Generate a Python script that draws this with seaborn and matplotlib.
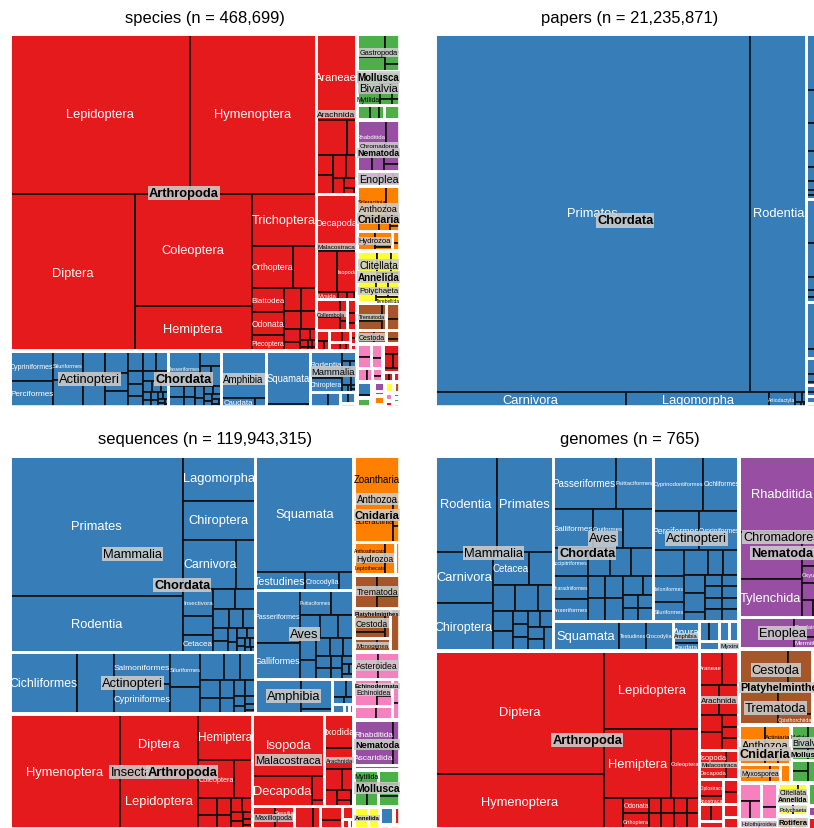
import matplotlib
matplotlib.use("Agg")
import matplotlib.pyplot as plt
import seaborn as sns
import pandas as pd
from matplotlib.patches import Rectangle
from matplotlib.font_manager import FontProperties

sns.set_theme(style="white")
plt.rcParams["font.family"] = ["Liberation Sans", "DejaVu Sans"]

# ---------------------------------------------------------------- data
# phylum order used to hand out the Set1 colours (recycled after eight)
PHYLUM_RANK = ["Arthropoda", "Chordata", "Mollusca", "Nematoda", "Cnidaria",
               "Annelida", "Platyhelminthes", "Echinodermata", "Porifera",
               "Bryozoa", "Tardigrada", "Nemertea", "Rotifera", "Brachiopoda",
               "Chaetognatha", "Onychophora", "Gastrotricha", "Kinorhyncha",
               "Priapulida", "Ctenophora"]

N_SPECIES = 468699
N_PAPERS = 21235871
N_SEQUENCES = 119943315
N_GENOMES = 765

# taxa are "phylum/class/order"; an empty class means no class rank
SPECIES_TAXA = [
    "Arthropoda/Insecta/Lepidoptera", "Arthropoda/Insecta/Hymenoptera", "Arthropoda/Insecta/Diptera",
    "Arthropoda/Insecta/Coleoptera", "Arthropoda/Insecta/Hemiptera", "Arthropoda/Insecta/Trichoptera",
    "Arthropoda/Insecta/Orthoptera", "Arthropoda/Insecta/Ephemeroptera", "Arthropoda/Insecta/Blattodea",
    "Arthropoda/Insecta/Odonata", "Arthropoda/Insecta/Plecoptera", "Arthropoda/Insecta/Psocodea",
    "Arthropoda/Insecta/Thysanoptera", "Arthropoda/Insecta/Neuroptera", "Arthropoda/Insecta/Phasmida",
    "Arthropoda/Insecta/Mantodea", "Arthropoda/Insecta/Siphonaptera", "Arthropoda/Insecta/Dermaptera",
    "Arthropoda/Insecta/Mecoptera", "Arthropoda/Insecta/Megaloptera", "Arthropoda/Insecta/Strepsiptera",
    "Arthropoda/Insecta/Zygentoma", "Arthropoda/Insecta/Archaeognatha", "Arthropoda/Insecta/Embioptera",
    "Arthropoda/Insecta/Raphidioptera",
    "Arthropoda/Arachnida/Araneae", "Arthropoda/Arachnida/Sarcoptiformes", "Arthropoda/Arachnida/Trombidiformes",
    "Arthropoda/Arachnida/Mesostigmata", "Arthropoda/Arachnida/Opiliones", "Arthropoda/Arachnida/Pseudoscorpiones",
    "Arthropoda/Arachnida/Scorpiones", "Arthropoda/Arachnida/Ixodida", "Arthropoda/Arachnida/Solifugae",
    "Arthropoda/Arachnida/Amblypygi", "Arthropoda/Arachnida/Palpigradi",
    "Arthropoda/Malacostraca/Decapoda", "Arthropoda/Malacostraca/Amphipoda", "Arthropoda/Malacostraca/Isopoda",
    "Arthropoda/Malacostraca/Mysida", "Arthropoda/Malacostraca/Cumacea", "Arthropoda/Malacostraca/Tanaidacea",
    "Arthropoda/Malacostraca/Euphausiacea",
    "Arthropoda/Collembola/Entomobryomorpha", "Arthropoda/Collembola/Poduromorpha",
    "Arthropoda/Collembola/Symphypleona", "Arthropoda/Collembola/Neelipleona",
    "Arthropoda/Hexanauplia/Calanoida", "Arthropoda/Hexanauplia/Harpacticoida", "Arthropoda/Hexanauplia/Cyclopoida",
    "Arthropoda/Diplopoda/Polydesmida", "Arthropoda/Diplopoda/Julida", "Arthropoda/Diplopoda/Spirostreptida",
    "Arthropoda/Ostracoda/Podocopida", "Arthropoda/Ostracoda/Myodocopida",
    "Arthropoda/Chilopoda/Geophilomorpha", "Arthropoda/Chilopoda/Lithobiomorpha",
    "Arthropoda/Chilopoda/Scolopendromorpha",
    "Arthropoda/Branchiopoda/Diplostraca", "Arthropoda/Branchiopoda/Anostraca",
    "Arthropoda/Pycnogonida/Pantopoda",
    "Chordata/Actinopteri/Cypriniformes", "Chordata/Actinopteri/Perciformes", "Chordata/Actinopteri/Siluriformes",
    "Chordata/Actinopteri/Cyprinodontiformes", "Chordata/Actinopteri/Gobiiformes", "Chordata/Actinopteri/Characiformes",
    "Chordata/Actinopteri/Cichliformes", "Chordata/Actinopteri/Scorpaeniformes", "Chordata/Actinopteri/Salmoniformes",
    "Chordata/Actinopteri/Anabantiformes", "Chordata/Actinopteri/Gadiformes", "Chordata/Actinopteri/Pleuronectiformes",
    "Chordata/Actinopteri/Clupeiformes", "Chordata/Actinopteri/Tetraodontiformes", "Chordata/Actinopteri/Labriformes",
    "Chordata/Actinopteri/Beloniformes", "Chordata/Actinopteri/Stomiiformes", "Chordata/Actinopteri/Myctophiformes",
    "Chordata/Actinopteri/Ophidiiformes", "Chordata/Actinopteri/Aulopiformes", "Chordata/Actinopteri/Lophiiformes",
    "Chordata/Actinopteri/Osmeriformes", "Chordata/Actinopteri/Blenniiformes", "Chordata/Actinopteri/Atheriniformes",
    "Chordata/Actinopteri/Gymnotiformes", "Chordata/Actinopteri/Syngnathiformes", "Chordata/Actinopteri/Anguilliformes",
    "Chordata/Actinopteri/Osteoglossiformes", "Chordata/Actinopteri/Acipenseriformes", "Chordata/Actinopteri/Zeiformes",
    "Chordata/Aves/Passeriformes", "Chordata/Aves/Apodiformes", "Chordata/Aves/Piciformes",
    "Chordata/Aves/Charadriiformes", "Chordata/Aves/Psittaciformes", "Chordata/Aves/Columbiformes",
    "Chordata/Aves/Galliformes", "Chordata/Aves/Accipitriformes", "Chordata/Aves/Coraciiformes",
    "Chordata/Aves/Strigiformes", "Chordata/Aves/Cuculiformes", "Chordata/Aves/Gruiformes",
    "Chordata/Aves/Anseriformes", "Chordata/Aves/Pelecaniformes", "Chordata/Aves/Procellariiformes",
    "Chordata/Aves/Caprimulgiformes", "Chordata/Aves/Trogoniformes", "Chordata/Aves/Bucerotiformes",
    "Chordata/Amphibia/Anura", "Chordata/Amphibia/Caudata", "Chordata/Amphibia/Gymnophiona",
    "Chordata//Squamata", "Chordata//Testudines", "Chordata//Crocodylia",
    "Chordata/Mammalia/Rodentia", "Chordata/Mammalia/Chiroptera", "Chordata/Mammalia/Eulipotyphla",
    "Chordata/Mammalia/Primates", "Chordata/Mammalia/Carnivora", "Chordata/Mammalia/Artiodactyla",
    "Chordata/Mammalia/Didelphimorphia", "Chordata/Mammalia/Diprotodontia", "Chordata/Mammalia/Cetacea",
    "Chordata/Mammalia/Lagomorpha", "Chordata/Mammalia/Afrosoricida",
    "Chordata/Chondrichthyes/Carcharhiniformes", "Chordata/Chondrichthyes/Rajiformes",
    "Chordata/Ascidiacea/Stolidobranchia", "Chordata/Ascidiacea/Phlebobranchia",
    "Chordata/Myxini/Myxiniformes", "Chordata/Leptocardii/Amphioxiformes",
    "Mollusca/Gastropoda/Stylommatophora", "Mollusca/Gastropoda/Neogastropoda",
    "Mollusca/Gastropoda/Littorinimorpha", "Mollusca/Gastropoda/Nudibranchia", "Mollusca/Gastropoda/Trochida",
    "Mollusca/Bivalvia/Venerida", "Mollusca/Bivalvia/Mytilida", "Mollusca/Bivalvia/Ostreida",
    "Mollusca/Bivalvia/Unionida", "Mollusca/Bivalvia/Cardiida", "Mollusca/Bivalvia/Pectinida",
    "Mollusca/Bivalvia/Arcida",
    "Mollusca/Cephalopoda/Octopoda", "Mollusca/Cephalopoda/Oegopsida", "Mollusca/Cephalopoda/Sepiida",
    "Mollusca/Polyplacophora/Chitonida",
    "Nematoda/Chromadorea/Rhabditida", "Nematoda/Chromadorea/Tylenchida", "Nematoda/Chromadorea/Araeolaimida",
    "Nematoda/Chromadorea/Desmodorida", "Nematoda/Chromadorea/Monhysterida", "Nematoda/Chromadorea/Plectida",
    "Nematoda/Enoplea/Enoplida", "Nematoda/Enoplea/Dorylaimida", "Nematoda/Enoplea/Mononchida",
    "Cnidaria/Anthozoa/Scleractinia", "Cnidaria/Anthozoa/Alcyonacea", "Cnidaria/Anthozoa/Actiniaria",
    "Cnidaria/Anthozoa/Zoantharia", "Cnidaria/Anthozoa/Antipatharia", "Cnidaria/Anthozoa/Pennatulacea",
    "Cnidaria/Hydrozoa/Leptothecata", "Cnidaria/Hydrozoa/Anthoathecata", "Cnidaria/Hydrozoa/Siphonophorae",
    "Cnidaria/Scyphozoa/Semaeostomeae", "Cnidaria/Scyphozoa/Rhizostomeae",
    "Annelida/Clitellata/Haplotaxida", "Annelida/Clitellata/Crassiclitellata",
    "Annelida/Clitellata/Arhynchobdellida", "Annelida/Clitellata/Rhynchobdellida",
    "Annelida/Polychaeta/Phyllodocida", "Annelida/Polychaeta/Eunicida", "Annelida/Polychaeta/Sabellida",
    "Annelida/Polychaeta/Terebellida",
    "Platyhelminthes/Trematoda/Plagiorchiida", "Platyhelminthes/Trematoda/Diplostomida",
    "Platyhelminthes/Trematoda/Opisthorchiida",
    "Platyhelminthes/Cestoda/Cyclophyllidea", "Platyhelminthes/Cestoda/Proteocephalidea",
    "Platyhelminthes/Monogenea/Dactylogyridea", "Platyhelminthes/Monogenea/Gyrodactylidea",
    "Platyhelminthes/Rhabditophora/Tricladida", "Platyhelminthes/Rhabditophora/Polycladida",
    "Echinodermata/Asteroidea/Valvatida", "Echinodermata/Asteroidea/Forcipulatida",
    "Echinodermata/Ophiuroidea/Ophiurida", "Echinodermata/Ophiuroidea/Amphilepidida",
    "Echinodermata/Echinoidea/Camarodonta", "Echinodermata/Echinoidea/Spatangoida",
    "Echinodermata/Holothuroidea/Holothuriida", "Echinodermata/Holothuroidea/Dendrochirotida",
    "Porifera/Demospongiae/Haplosclerida", "Porifera/Demospongiae/Poecilosclerida",
    "Porifera/Demospongiae/Tetractinellida", "Porifera/Demospongiae/Dictyoceratida",
    "Porifera/Calcarea/Clathrinida", "Porifera/Calcarea/Leucosolenida", "Porifera/Hexactinellida/Lyssacinosida",
    "Bryozoa/Gymnolaemata/Cheilostomatida", "Bryozoa/Gymnolaemata/Ctenostomatida",
    "Bryozoa/Phylactolaemata/Plumatellida",
    "Tardigrada/Eutardigrada/Parachela", "Tardigrada/Heterotardigrada/Echiniscoidea",
    "Nemertea/Pilidiophora/Heteronemertea", "Nemertea/Hoplonemertea/Monostilifera",
    "Rotifera/Monogononta/Ploima", "Rotifera/Bdelloidea/Philodinida",
    "Brachiopoda/Rhynchonellata/Terebratulida", "Chaetognatha/Sagittoidea/Aphragmophora",
    "Onychophora/Udeonychophora/Euonychophora", "Gastrotricha/Chaetonotida/Paucitubulatina",
    "Kinorhyncha/Cyclorhagida/Echinorhagata", "Priapulida/Priapulimorpha/Priapulimorphida",
    "Ctenophora/Tentaculata/Lobata",
]
SPECIES_SIZE = [
    28800, 20000, 19500, 13000, 5300, 3300, 1700, 950, 800, 750, 520, 400, 340, 300, 250,
    200, 150, 120, 60, 50, 40, 30, 20, 20, 15,
    3570, 1120, 350, 340, 330, 300, 250, 180, 120, 60, 20,
    2350, 900, 820, 150, 60, 50, 20,
    450, 300, 150, 60,
    150, 100, 70,
    150, 90, 60,
    150, 100,
    100, 60, 40,
    60, 40,
    50,
    1260, 1125, 840, 810, 650, 560, 480, 420, 360, 300, 260, 230, 200, 180, 160,
    140, 120, 100, 90, 80, 70, 60, 50, 45, 40, 35, 30, 25, 15, 10,
    1100, 300, 220, 200, 180, 150, 130, 110, 100, 80, 70, 60, 55, 50, 45, 40, 20, 15,
    2100, 300, 100,
    2250, 140, 10,
    850, 440, 150, 120, 100, 80, 50, 40, 25, 25, 15,
    280, 180,
    100, 70,
    60, 40,
    650, 380, 270, 170, 110,
    490, 290, 240, 200, 130, 75, 45,
    180, 120, 80,
    220,
    950, 480, 270, 220, 170, 110,
    330, 210, 110,
    850, 420, 320, 160, 100, 50,
    350, 290, 60,
    90, 60,
    540, 320, 190, 130,
    480, 220, 210, 160,
    430, 220, 110,
    250, 170,
    220, 150,
    120, 80,
    170, 160,
    150, 120,
    130, 80,
    80, 60,
    170, 140, 100, 70,
    60, 40, 70,
    180, 50,
    50,
    110, 40,
    100, 50,
    90, 30,
    90, 70,
    60, 50,
    40, 30,
    30,
]

PAPERS_TAXA = [
    "Chordata/Mammalia/Primates", "Chordata/Mammalia/Rodentia", "Chordata/Mammalia/Carnivora",
    "Chordata/Mammalia/Lagomorpha", "Chordata/Mammalia/Artiodactyla", "Chordata/Mammalia/Chiroptera",
    "Chordata/Mammalia/Perissodactyla", "Chordata/Mammalia/Didelphimorphia", "Chordata/Mammalia/Cetacea",
    "Chordata/Mammalia/Diprotodontia",
    "Chordata/Actinopteri/Cypriniformes", "Chordata/Actinopteri/Salmoniformes", "Chordata/Actinopteri/Perciformes",
    "Chordata/Actinopteri/Cyprinodontiformes", "Chordata/Actinopteri/Siluriformes",
    "Chordata/Actinopteri/Cichliformes", "Chordata/Actinopteri/Gadiformes", "Chordata/Actinopteri/Pleuronectiformes",
    "Chordata/Aves/Galliformes", "Chordata/Aves/Passeriformes", "Chordata/Aves/Anseriformes",
    "Chordata/Aves/Columbiformes", "Chordata/Aves/Psittaciformes",
    "Chordata/Amphibia/Anura", "Chordata/Amphibia/Caudata",
    "Chordata//Squamata", "Chordata//Testudines", "Chordata//Crocodylia",
    "Chordata/Chondrichthyes/Carcharhiniformes", "Chordata/Chondrichthyes/Rajiformes",
    "Chordata/Ascidiacea/Stolidobranchia", "Chordata/Myxini/Myxiniformes",
    "Arthropoda/Insecta/Diptera", "Arthropoda/Insecta/Lepidoptera", "Arthropoda/Insecta/Hymenoptera",
    "Arthropoda/Insecta/Coleoptera", "Arthropoda/Insecta/Hemiptera",
    "Arthropoda/Arachnida/Ixodida", "Arthropoda/Arachnida/Araneae", "Arthropoda/Malacostraca/Decapoda",
    "Nematoda/Chromadorea/Rhabditida",
    "Platyhelminthes/Trematoda/Plagiorchiida", "Platyhelminthes/Trematoda/Diplostomida",
    "Platyhelminthes/Cestoda/Cyclophyllidea",
    "Cnidaria/Hydrozoa/Anthoathecata", "Cnidaria/Anthozoa/Actiniaria",
    "Mollusca/Gastropoda/Stylommatophora", "Mollusca/Bivalvia/Mytilida",
    "Annelida/Clitellata/Haplotaxida", "Echinodermata/Echinoidea/Camarodonta",
]
PAPERS_SIZE = [
    113500, 20160, 2880, 2145, 400, 70, 45, 25, 15, 10,
    500, 300, 250, 150, 120, 80, 50, 35,
    400, 300, 120, 60, 47,
    420, 80,
    150, 70, 30,
    60, 40,
    60, 35,
    1200, 250, 180, 100, 90,
    100, 50, 100,
    550,
    150, 100,
    120,
    140, 100,
    120, 100,
    110, 80,
]

SEQUENCES_TAXA = [
    "Chordata/Mammalia/Primates", "Chordata/Mammalia/Rodentia", "Chordata/Mammalia/Lagomorpha",
    "Chordata/Mammalia/Chiroptera", "Chordata/Mammalia/Carnivora", "Chordata/Mammalia/Artiodactyla",
    "Chordata/Mammalia/Insectivora", "Chordata/Mammalia/Perissodactyla", "Chordata/Mammalia/Cetacea",
    "Chordata/Mammalia/Didelphimorphia", "Chordata/Mammalia/Diprotodontia", "Chordata/Mammalia/Dasyuromorphia",
    "Chordata/Mammalia/Scandentia", "Chordata/Mammalia/Afrosoricida", "Chordata/Mammalia/Proboscidea",
    "Chordata/Mammalia/Sirenia", "Chordata/Mammalia/Pilosa", "Chordata/Mammalia/Cingulata",
    "Chordata/Mammalia/Macroscelidea", "Chordata/Mammalia/Hyracoidea", "Chordata/Mammalia/Pholidota",
    "Chordata/Mammalia/Monotremata", "Chordata/Mammalia/Dermoptera", "Chordata/Mammalia/Peramelemorphia",
    "Chordata/Mammalia/Tubulidentata", "Chordata/Mammalia/Microbiotheria",
    "Chordata//Squamata", "Chordata//Testudines", "Chordata//Crocodylia", "Chordata//Rhynchocephalia",
    "Chordata/Aves/Passeriformes", "Chordata/Aves/Galliformes", "Chordata/Aves/Psittaciformes",
    "Chordata/Aves/Anseriformes", "Chordata/Aves/Accipitriformes", "Chordata/Aves/Charadriiformes",
    "Chordata/Aves/Piciformes", "Chordata/Aves/Columbiformes", "Chordata/Aves/Strigiformes",
    "Chordata/Aves/Sphenisciformes", "Chordata/Aves/Pelecaniformes", "Chordata/Aves/Gruiformes",
    "Chordata/Aves/Cuculiformes", "Chordata/Aves/Coraciiformes", "Chordata/Aves/Procellariiformes",
    "Chordata/Aves/Apodiformes", "Chordata/Aves/Struthioniformes", "Chordata/Aves/Tinamiformes",
    "Chordata/Aves/Bucerotiformes", "Chordata/Aves/Caprimulgiformes",
    "Chordata/Actinopteri/Cichliformes", "Chordata/Actinopteri/Cyprinodontiformes",
    "Chordata/Actinopteri/Salmoniformes", "Chordata/Actinopteri/Cypriniformes",
    "Chordata/Actinopteri/Siluriformes", "Chordata/Actinopteri/Characiformes", "Chordata/Actinopteri/Perciformes",
    "Chordata/Actinopteri/Beloniformes", "Chordata/Actinopteri/Pleuronectiformes",
    "Chordata/Actinopteri/Gadiformes", "Chordata/Actinopteri/Tetraodontiformes",
    "Chordata/Actinopteri/Anabantiformes", "Chordata/Actinopteri/Gobiiformes",
    "Chordata/Actinopteri/Scorpaeniformes", "Chordata/Actinopteri/Clupeiformes",
    "Chordata/Actinopteri/Osmeriformes", "Chordata/Actinopteri/Acipenseriformes",
    "Chordata/Actinopteri/Esociformes", "Chordata/Actinopteri/Anguilliformes",
    "Chordata/Actinopteri/Gasterosteiformes",
    "Chordata/Amphibia/Anura", "Chordata/Amphibia/Caudata", "Chordata/Amphibia/Gymnophiona",
    "Chordata/Chondrichthyes/Carcharhiniformes", "Chordata/Chondrichthyes/Rajiformes",
    "Chordata/Chondrichthyes/Lamniformes", "Chordata/Chondrichthyes/Squaliformes",
    "Chordata/Coelacanthi/Coelacanthiformes", "Chordata/Ascidiacea/Stolidobranchia",
    "Chordata/Myxini/Myxiniformes",
    "Arthropoda/Insecta/Hymenoptera", "Arthropoda/Insecta/Diptera", "Arthropoda/Insecta/Lepidoptera",
    "Arthropoda/Insecta/Hemiptera", "Arthropoda/Insecta/Coleoptera", "Arthropoda/Insecta/Orthoptera",
    "Arthropoda/Insecta/Trichoptera", "Arthropoda/Insecta/Blattodea", "Arthropoda/Insecta/Odonata",
    "Arthropoda/Insecta/Phasmida", "Arthropoda/Insecta/Psocodea", "Arthropoda/Insecta/Thysanoptera",
    "Arthropoda/Insecta/Ephemeroptera", "Arthropoda/Insecta/Plecoptera", "Arthropoda/Insecta/Neuroptera",
    "Arthropoda/Insecta/Siphonaptera", "Arthropoda/Insecta/Mantodea",
    "Arthropoda/Malacostraca/Isopoda", "Arthropoda/Malacostraca/Decapoda", "Arthropoda/Malacostraca/Amphipoda",
    "Arthropoda/Malacostraca/Mysida",
    "Arthropoda/Arachnida/Ixodida", "Arthropoda/Arachnida/Araneae", "Arthropoda/Arachnida/Trombidiformes",
    "Arthropoda/Arachnida/Sarcoptiformes", "Arthropoda/Arachnida/Mesostigmata", "Arthropoda/Arachnida/Scorpiones",
    "Arthropoda/Arachnida/Opiliones", "Arthropoda/Arachnida/Pseudoscorpiones",
    "Arthropoda/Maxillopoda/Calanoida", "Arthropoda/Maxillopoda/Sessilia", "Arthropoda/Maxillopoda/Harpacticoida",
    "Arthropoda/Branchiopoda/Diplostraca", "Arthropoda/Branchiopoda/Anostraca",
    "Arthropoda/Collembola/Entomobryomorpha", "Arthropoda/Collembola/Poduromorpha",
    "Arthropoda/Ostracoda/Podocopida", "Arthropoda/Chilopoda/Scolopendromorpha",
    "Arthropoda/Diplopoda/Polydesmida",
    "Cnidaria/Anthozoa/Zoantharia", "Cnidaria/Anthozoa/Scleractinia", "Cnidaria/Anthozoa/Actiniaria",
    "Cnidaria/Anthozoa/Alcyonacea",
    "Cnidaria/Hydrozoa/Anthoathecata", "Cnidaria/Hydrozoa/Leptothecata", "Cnidaria/Hydrozoa/Siphonophorae",
    "Cnidaria/Scyphozoa/Semaeostomeae",
    "Platyhelminthes/Trematoda/Plagiorchiida", "Platyhelminthes/Trematoda/Diplostomida",
    "Platyhelminthes/Trematoda/Opisthorchiida",
    "Platyhelminthes/Cestoda/Cyclophyllidea", "Platyhelminthes/Cestoda/Diphyllobothriidea",
    "Platyhelminthes/Cestoda/Proteocephalidea",
    "Platyhelminthes/Monogenea/Dactylogyridea", "Platyhelminthes/Monogenea/Gyrodactylidea",
    "Platyhelminthes/Rhabditophora/Tricladida",
    "Echinodermata/Asteroidea/Valvatida", "Echinodermata/Asteroidea/Forcipulatida",
    "Echinodermata/Echinoidea/Camarodonta", "Echinodermata/Echinoidea/Spatangoida",
    "Echinodermata/Echinoidea/Cidaroida",
    "Echinodermata/Holothuroidea/Holothuriida", "Echinodermata/Holothuroidea/Dendrochirotida",
    "Echinodermata/Ophiuroidea/Ophiurida", "Echinodermata/Ophiuroidea/Amphilepidida",
    "Nematoda/Chromadorea/Rhabditida", "Nematoda/Chromadorea/Ascaridida", "Nematoda/Chromadorea/Spirurida",
    "Nematoda/Chromadorea/Strongylida", "Nematoda/Enoplea/Trichinellida",
    "Mollusca/Bivalvia/Mytilida", "Mollusca/Bivalvia/Ostreida", "Mollusca/Bivalvia/Venerida",
    "Mollusca/Gastropoda/Littorinimorpha", "Mollusca/Gastropoda/Stylommatophora",
    "Mollusca/Gastropoda/Neogastropoda",
    "Annelida/Polychaeta/Phyllodocida", "Annelida/Clitellata/Haplotaxida",
    "Bryozoa/Gymnolaemata/Cheilostomatida", "Porifera/Demospongiae/Haplosclerida",
    "Tardigrada/Eutardigrada/Parachela", "Rotifera/Monogononta/Ploima",
]
SEQUENCES_SIZE = [
    23460, 9350, 3080, 2700, 2550, 870, 760, 550, 500, 420, 380, 300, 250, 220, 180, 160,
    130, 100, 90, 70, 60, 50, 40, 40, 30, 20,
    11170, 900, 600, 270,
    2300, 1560, 720, 560, 450, 420, 380, 330, 280, 250, 220, 200, 170, 150, 130, 110, 90, 70, 60, 50,
    4030, 2170, 1700, 1650, 1040, 800, 640, 420, 380, 340, 300, 260, 220, 180, 150, 110, 90, 70, 50, 40,
    1610, 900, 150,
    250, 150, 80, 70,
    120, 50,
    50,
    12200, 4470, 4240, 2380, 1330, 680, 300, 250, 220, 180, 150, 130, 110, 90, 70, 50, 40,
    4320, 1740, 280, 68,
    990, 600, 350, 250, 200, 150, 80, 50,
    500, 250, 174,
    400, 172,
    300, 184,
    150, 60,
    54,
    2020, 1500, 160, 100,
    540, 440, 310,
    150,
    720, 480, 260,
    700, 200, 150,
    300, 170,
    440,
    600, 560,
    600, 250, 150,
    280, 200,
    200, 130,
    1100, 600, 170, 130, 205,
    300, 300, 250,
    300, 250, 220,
    300, 250,
    264, 100,
    40, 36,
]

GENOMES_TAXA = [
    "Chordata/Mammalia/Rodentia", "Chordata/Mammalia/Primates", "Chordata/Mammalia/Carnivora",
    "Chordata/Mammalia/Chiroptera", "Chordata/Mammalia/Cetacea", "Chordata/Mammalia/Artiodactyla",
    "Chordata/Mammalia/Perissodactyla", "Chordata/Mammalia/Didelphimorphia", "Chordata/Mammalia/Diprotodontia",
    "Chordata/Mammalia/Eulipotyphla", "Chordata/Mammalia/Lagomorpha", "Chordata/Mammalia/Afrosoricida",
    "Chordata/Mammalia/Dasyuromorphia", "Chordata/Mammalia/Proboscidea", "Chordata/Mammalia/Scandentia",
    "Chordata/Mammalia/Sirenia", "Chordata/Mammalia/Pholidota", "Chordata/Mammalia/Monotremata",
    "Chordata/Mammalia/Pilosa",
    "Chordata/Aves/Passeriformes", "Chordata/Aves/Psittaciformes", "Chordata/Aves/Galliformes",
    "Chordata/Aves/Gruiformes", "Chordata/Aves/Pelecaniformes", "Chordata/Aves/Accipitriformes",
    "Chordata/Aves/Charadriiformes", "Chordata/Aves/Anseriformes", "Chordata/Aves/Columbiformes",
    "Chordata/Aves/Piciformes", "Chordata/Aves/Sphenisciformes", "Chordata/Aves/Coraciiformes",
    "Chordata/Aves/Cuculiformes", "Chordata/Aves/Strigiformes", "Chordata/Aves/Procellariiformes",
    "Chordata/Aves/Apodiformes", "Chordata/Aves/Caprimulgiformes", "Chordata/Aves/Tinamiformes",
    "Chordata/Aves/Struthioniformes", "Chordata/Aves/Bucerotiformes", "Chordata/Aves/Trogoniformes",
    "Chordata/Actinopteri/Cyprinodontiformes", "Chordata/Actinopteri/Cichliformes",
    "Chordata/Actinopteri/Perciformes", "Chordata/Actinopteri/Cypriniformes",
    "Chordata/Actinopteri/Tetraodontiformes", "Chordata/Actinopteri/Beloniformes",
    "Chordata/Actinopteri/Siluriformes", "Chordata/Actinopteri/Salmoniformes",
    "Chordata/Actinopteri/Pleuronectiformes", "Chordata/Actinopteri/Gadiformes",
    "Chordata/Actinopteri/Gasterosteiformes", "Chordata/Actinopteri/Anabantiformes",
    "Chordata/Actinopteri/Characiformes", "Chordata/Actinopteri/Osteoglossiformes",
    "Chordata/Actinopteri/Clupeiformes", "Chordata/Actinopteri/Esociformes",
    "Chordata/Actinopteri/Scombriformes", "Chordata/Actinopteri/Gobiiformes",
    "Chordata/Actinopteri/Atheriniformes", "Chordata/Actinopteri/Lepisosteiformes",
    "Chordata/Actinopteri/Acipenseriformes",
    "Chordata//Squamata", "Chordata//Testudines", "Chordata//Crocodylia",
    "Chordata/Amphibia/Anura", "Chordata/Amphibia/Caudata",
    "Chordata/Ascidiacea/Stolidobranchia", "Chordata/Ascidiacea/Phlebobranchia",
    "Chordata/Chondrichthyes/Carcharhiniformes", "Chordata/Leptocardii/Amphioxiformes",
    "Chordata/Coelacanthi/Coelacanthiformes", "Chordata/Myxini/Myxiniformes",
    "Arthropoda/Insecta/Diptera", "Arthropoda/Insecta/Hymenoptera", "Arthropoda/Insecta/Lepidoptera",
    "Arthropoda/Insecta/Hemiptera", "Arthropoda/Insecta/Coleoptera", "Arthropoda/Insecta/Blattodea",
    "Arthropoda/Insecta/Odonata", "Arthropoda/Insecta/Orthoptera", "Arthropoda/Insecta/Phasmida",
    "Arthropoda/Insecta/Trichoptera", "Arthropoda/Insecta/Psocodea", "Arthropoda/Insecta/Thysanoptera",
    "Arthropoda/Insecta/Ephemeroptera", "Arthropoda/Insecta/Siphonaptera", "Arthropoda/Insecta/Neuroptera",
    "Arthropoda/Insecta/Strepsiptera",
    "Arthropoda/Arachnida/Araneae", "Arthropoda/Arachnida/Trombidiformes", "Arthropoda/Arachnida/Sarcoptiformes",
    "Arthropoda/Arachnida/Ixodida", "Arthropoda/Arachnida/Mesostigmata", "Arthropoda/Arachnida/Scorpiones",
    "Arthropoda/Arachnida/Opiliones", "Arthropoda/Arachnida/Pseudoscorpiones", "Arthropoda/Arachnida/Solifugae",
    "Arthropoda/Malacostraca/Isopoda", "Arthropoda/Malacostraca/Decapoda", "Arthropoda/Malacostraca/Amphipoda",
    "Arthropoda/Malacostraca/Stomatopoda",
    "Arthropoda/Branchiopoda/Diplostraca", "Arthropoda/Branchiopoda/Anostraca",
    "Arthropoda/Hexanauplia/Calanoida", "Arthropoda/Hexanauplia/Siphonostomatoida",
    "Arthropoda/Collembola/Entomobryomorpha", "Arthropoda/Collembola/Poduromorpha",
    "Arthropoda/Chilopoda/Scolopendromorpha", "Arthropoda/Diplopoda/Polydesmida",
    "Arthropoda/Merostomata/Xiphosura",
    "Nematoda/Chromadorea/Rhabditida", "Nematoda/Chromadorea/Spirurida", "Nematoda/Chromadorea/Tylenchida",
    "Nematoda/Chromadorea/Ascaridida", "Nematoda/Chromadorea/Oxyurida", "Nematoda/Chromadorea/Diplogasterida",
    "Nematoda/Chromadorea/Plectida", "Nematoda/Chromadorea/Monhysterida",
    "Nematoda/Enoplea/Trichinellida", "Nematoda/Enoplea/Dorylaimida", "Nematoda/Enoplea/Mermithida",
    "Platyhelminthes/Cestoda/Cyclophyllidea", "Platyhelminthes/Cestoda/Diphyllobothriidea",
    "Platyhelminthes/Trematoda/Plagiorchiida", "Platyhelminthes/Trematoda/Diplostomida",
    "Platyhelminthes/Trematoda/Opisthorchiida",
    "Platyhelminthes/Monogenea/Dactylogyridea", "Platyhelminthes/Monogenea/Gyrodactylidea",
    "Cnidaria/Anthozoa/Scleractinia", "Cnidaria/Anthozoa/Actiniaria", "Cnidaria/Anthozoa/Zoantharia",
    "Cnidaria/Anthozoa/Alcyonacea",
    "Cnidaria/Myxosporea/Bivalvulida", "Cnidaria/Myxosporea/Multivalvulida", "Cnidaria/Hydrozoa/Anthoathecata",
    "Mollusca/Bivalvia/Mytilida", "Mollusca/Bivalvia/Ostreida", "Mollusca/Bivalvia/Venerida",
    "Mollusca/Bivalvia/Pectinida",
    "Mollusca/Gastropoda/Stylommatophora", "Mollusca/Gastropoda/Littorinimorpha",
    "Mollusca/Gastropoda/Neogastropoda", "Mollusca/Cephalopoda/Octopoda",
    "Echinodermata/Echinoidea/Camarodonta", "Echinodermata/Echinoidea/Spatangoida",
    "Echinodermata/Echinoidea/Cidaroida",
    "Echinodermata/Asteroidea/Valvatida", "Echinodermata/Asteroidea/Forcipulatida",
    "Echinodermata/Holothuroidea/Holothuriida", "Echinodermata/Holothuroidea/Dendrochirotida",
    "Annelida/Clitellata/Haplotaxida", "Annelida/Clitellata/Rhynchobdellida",
    "Annelida/Polychaeta/Phyllodocida", "Annelida/Polychaeta/Sabellida",
    "Rotifera/Monogononta/Ploima", "Rotifera/Bdelloidea/Philodinida",
    "Tardigrada/Eutardigrada/Parachela", "Nemertea/Pilidiophora/Heteronemertea",
    "Porifera/Demospongiae/Haplosclerida",
]
GENOMES_COUNT = [
    30, 27, 15, 14, 6, 4, 3, 3, 2, 2, 2, 1, 1, 1, 1, 1, 1, 1, 1,
    17, 10, 8, 6, 6, 5, 4, 4, 3, 3, 3, 2, 2, 2, 2, 2, 1, 1, 1, 1, 1,
    14, 10, 9, 8, 4, 4, 3, 3, 2, 2, 2, 2, 1, 1, 1, 1, 1, 1, 1, 1, 1,
    10, 4, 4,
    3, 1,
    1, 1,
    1, 1, 1, 1,
    106, 47, 38, 23, 10, 3, 2, 2, 1, 1, 1, 1, 1, 1, 1, 1,
    4, 3, 3, 3, 2, 2, 1, 1, 1,
    2, 2, 1, 1,
    2, 1,
    1, 1,
    1, 1,
    1, 1, 1,
    33, 15, 12, 4, 2, 2, 1, 1,
    9, 3, 2,
    10, 5,
    7, 4, 2,
    3, 2,
    5, 3, 1, 1,
    3, 1, 1,
    2, 2, 1, 1,
    1, 1, 1, 1,
    2, 1, 1,
    2, 1,
    1, 1,
    2, 1,
    1, 1,
    1, 1,
    2, 1,
    1,
]

# ---------------------------------------------------------------- layout
FIG_W, FIG_H, DPI = 814, 829, 100
PANEL_W, PANEL_H = 390, 373
MAX_PT = 9.3            # full label size
# per level: share of the box width a label may use, smallest allowed shrink factor
FIT_WIDTH = {0: 0.97, 1: 0.9, 2: 1.0}
MIN_SCALE = {0: 0.45, 1: 0.42, 2: 0.37}

PALETTE = sns.color_palette("Set1", 8).as_hex()
PHYLUM_COLOR = {p: PALETTE[i % 8] for i, p in enumerate(PHYLUM_RANK)}


def pivot_by_size(sizes, x, y, w, h):
    """Ordered pivot-by-size treemap; sizes sorted descending, y grows downwards."""
    n = len(sizes)
    if n == 0:
        return []
    if n == 1:
        return [(x, y, w, h)]
    total = float(sum(sizes))
    p = sizes[0]
    best_k, best_ar = 0, None
    for k in range(0, n):
        grp = p + sum(sizes[1:1 + k])
        if w > h:
            a, b = w * grp / total, h * p / grp
        else:
            a, b = w * p / grp, h * grp / total
        ar = max(a / b, b / a) if a > 0 and b > 0 else 1e9
        if best_ar is None or ar < best_ar:
            best_k, best_ar = k, ar
    grp = p + sum(sizes[1:1 + best_k])
    if w > h:
        cw = w * grp / total
        ph = h * p / grp
        rp = (x, y, cw, ph)
        r2 = (x, y + ph, cw, h - ph)
        r3 = (x + cw, y, w - cw, h)
    else:
        rh = h * grp / total
        pw = w * p / grp
        rp = (x, y, pw, rh)
        r2 = (x + pw, y, w - pw, rh)
        r3 = (x, y + rh, w, h - rh)
    return ([rp] + pivot_by_size(sizes[1:1 + best_k], *r2)
            + pivot_by_size(sizes[1 + best_k:], *r3))


def build_frame(taxa, sizes):
    parts = [t.split("/") for t in taxa]
    return pd.DataFrame({"phylum": [p[0] for p in parts], "cls": [p[1] for p in parts],
                         "order": [p[2] for p in parts], "size": sizes})


def text_color(hex_color):
    r, g, b = [int(hex_color[i:i + 2], 16) for i in (1, 3, 5)]
    return "black" if 0.299 * r + 0.587 * g + 0.114 * b >= 128 else "white"


fig = plt.figure(figsize=(FIG_W / DPI, FIG_H / DPI), dpi=DPI)
renderer = fig.canvas.get_renderer()


def measure(s, bold):
    fp = FontProperties(family=["Liberation Sans", "DejaVu Sans"], size=MAX_PT,
                        weight="bold" if bold else "normal")
    w, _, _ = renderer.get_text_width_height_descent(s, fp, ismath=False)
    return w


def fit_label(s, rect, level):
    x, y, w, h = rect
    tw = measure(s, level == 0)
    th = MAX_PT * DPI / 72.0 * 1.15
    scale = min(1.0, w * FIT_WIDTH[level] / tw, h / th)
    if scale < MIN_SCALE[level]:
        return None
    cx, cy = x + w / 2, y + h / 2
    bw, bh = tw * scale, th * scale * 0.9
    return scale, (cx - bw / 2, cy - bh / 2, cx + bw / 2, cy + bh / 2)


def overlap_share(a, b):
    ix = max(0.0, min(a[2], b[2]) - max(a[0], b[0]))
    iy = max(0.0, min(a[3], b[3]) - max(a[1], b[1]))
    area = (a[2] - a[0]) * (a[3] - a[1])
    return ix * iy / area if area > 0 else 1.0


def draw_treemap(ax, df):
    ax.set_xlim(0, PANEL_W)
    ax.set_ylim(PANEL_H, 0)
    ax.axis("off")
    labels = {0: [], 1: [], 2: []}
    phy = df.groupby("phylum", sort=False)["size"].sum().sort_values(ascending=False, kind="stable")
    prects = pivot_by_size(list(phy.values), 0, 0, PANEL_W, PANEL_H)
    for pname, prect in zip(phy.index, prects):
        color = PHYLUM_COLOR[pname]
        sub = df[df["phylum"] == pname]
        cls = sub.groupby("cls", sort=False)["size"].sum().sort_values(ascending=False, kind="stable")
        crects = pivot_by_size(list(cls.values), *prect)
        for cname, crect in zip(cls.index, crects):
            ords = sub[sub["cls"] == cname].sort_values("size", ascending=False, kind="stable")
            orects = pivot_by_size(list(ords["size"]), *crect)
            for oname, orect in zip(ords["order"], orects):
                ax.add_patch(Rectangle(orect[:2], orect[2], orect[3], facecolor=color,
                                       edgecolor="#111111", lw=1.25, zorder=1))
                labels[2].append((oname, orect, text_color(color)))
            ax.add_patch(Rectangle(crect[:2], crect[2], crect[3], facecolor="none",
                                   edgecolor="white", lw=1.9, zorder=2))
            if cname:
                labels[1].append((cname, crect, "black"))
        ax.add_patch(Rectangle(prect[:2], prect[2], prect[3], facecolor="none",
                               edgecolor="white", lw=2.6, zorder=3))
        labels[0].append((pname, prect, "black"))

    placed = []
    drawn = {}
    for level in (0, 1, 2):
        for name, rect, tcol in labels[level]:
            res = fit_label(name, rect, level)
            if res is None:
                continue
            scale, box = res
            if level > 0 and any(overlap_share(box, b) > 0.5 for b in placed):
                continue
            drawn.setdefault(level, []).append((name, rect, tcol, scale))
            if level < 2:
                placed.append(box)
    for level in (2, 1, 0):
        for name, rect, tcol, scale in drawn.get(level, []):
            cx, cy = rect[0] + rect[2] / 2, rect[1] + rect[3] / 2
            kw = {}
            if level < 2:
                kw["bbox"] = dict(boxstyle="square,pad=0.08", fc="#CCCCCC", ec="none", alpha=0.88)
            ax.text(cx, cy, name, ha="center", va="center", fontsize=MAX_PT * scale,
                    color=tcol, fontweight="bold" if level == 0 else "normal",
                    zorder=6 - level, clip_on=True, **kw)


PANELS = [
    ("species", N_SPECIES, SPECIES_TAXA, SPECIES_SIZE, 10, 35),
    ("papers", N_PAPERS, PAPERS_TAXA, PAPERS_SIZE, 435, 35),
    ("sequences", N_SEQUENCES, SEQUENCES_TAXA, SEQUENCES_SIZE, 10, 457),
    ("genomes", N_GENOMES, GENOMES_TAXA, GENOMES_COUNT, 435, 457),
]

for title, n, taxa, sizes, x0, y0 in PANELS:
    ax = fig.add_axes([x0 / FIG_W, 1 - (y0 + PANEL_H) / FIG_H, PANEL_W / FIG_W, PANEL_H / FIG_H])
    draw_treemap(ax, build_frame(taxa, sizes))
    fig.text((x0 + PANEL_W / 2) / FIG_W, 1 - (y0 - 17) / FIG_H, f"{title} (n = {n:,})",
             ha="center", va="center", fontsize=11.9, color="black")

fig.savefig("out.png", dpi=DPI, facecolor="white")
